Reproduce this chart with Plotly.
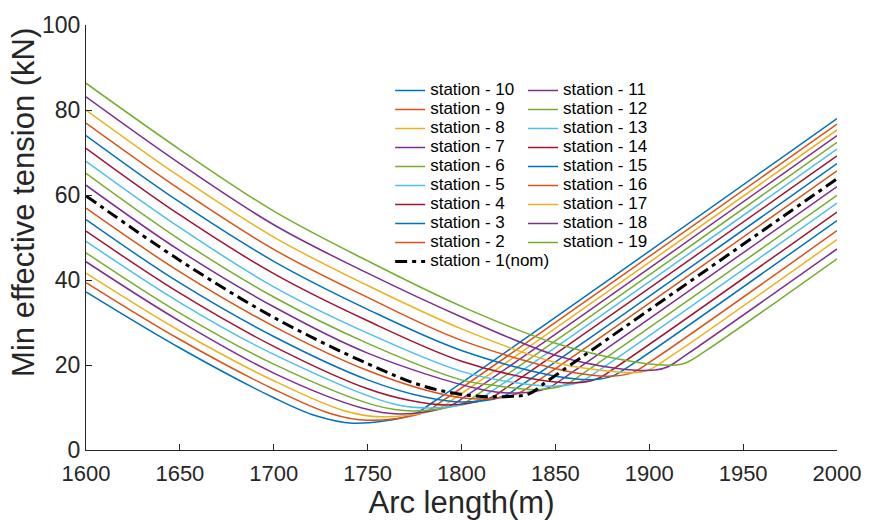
import plotly.graph_objects as go

# ---- data (arc length in m, min effective tension in kN) ----
st10_x = [1600, 1650, 1700, 1722, 1742, 1774, 1784, 2000]
st10_y = [37.2, 24.0, 12.3, 8.1, 6.3, 8.3, 11.0, 78.0]
st9_x = [1600, 1650, 1700, 1730, 1750, 1780, 1790, 2000]
st9_y = [39.4, 26.0, 14.3, 8.6, 7.0, 8.8, 11.6, 76.7]
st8_x = [1600, 1650, 1700, 1737, 1757, 1787, 1797, 2000]
st8_y = [41.6, 28.0, 16.3, 9.3, 7.8, 9.6, 12.4, 75.3]
st7_x = [1600, 1650, 1700, 1747, 1767, 1793, 1803, 2000]
st7_y = [44.3, 30.3, 18.1, 9.9, 8.5, 10.2, 12.9, 74.0]
st6_x = [1600, 1650, 1700, 1754, 1774, 1800, 1810, 2000]
st6_y = [46.4, 32.2, 20.2, 10.5, 9.2, 10.8, 13.5, 72.4]
st5_x = [1600, 1650, 1700, 1764, 1784, 1807, 1817, 2000]
st5_y = [49.1, 34.7, 22.5, 10.8, 9.9, 11.4, 14.1, 70.8]
st4_x = [1600, 1650, 1700, 1750, 1772, 1792, 1815, 1825, 2000]
st4_y = [51.5, 36.9, 24.4, 14.4, 11.7, 10.6, 12.2, 15.0, 69.2]
st3_x = [1600, 1650, 1700, 1750, 1781, 1801, 1822, 1832, 2000]
st3_y = [54.2, 39.3, 26.7, 16.5, 12.4, 11.3, 12.6, 15.3, 67.4]
st2_x = [1600, 1650, 1700, 1750, 1791, 1811, 1830, 1840, 2000]
st2_y = [56.9, 41.9, 29.1, 18.7, 13.0, 12.0, 13.3, 16.1, 65.7]
nom_x = [1600, 1650, 1700, 1750, 1780, 1805, 1825, 1836, 1846, 2000]
nom_y = [59.8, 44.6, 31.2, 20.3, 15.0, 12.8, 12.6, 13.2, 16.3, 63.8]
st11_x = [1600, 1650, 1700, 1750, 1810, 1830, 1846, 1856, 2000]
st11_y = [62.3, 46.9, 33.7, 22.8, 14.3, 13.4, 14.6, 17.4, 62.0]
st12_x = [1600, 1650, 1700, 1750, 1800, 1819, 1839, 1855, 1865, 2000]
st12_y = [65.1, 49.5, 36.0, 25.1, 16.5, 15.1, 14.2, 15.3, 18.1, 59.9]
st13_x = [1600, 1650, 1700, 1750, 1800, 1829, 1849, 1863, 1873, 2000]
st13_y = [67.9, 52.3, 38.4, 27.5, 18.5, 15.8, 15.0, 16.0, 18.7, 58.1]
st14_x = [1600, 1650, 1700, 1750, 1800, 1840, 1860, 1872, 1882, 2000]
st14_y = [71.0, 55.3, 41.5, 30.4, 20.9, 16.6, 15.8, 16.7, 19.4, 56.0]
st15_x = [1600, 1650, 1700, 1750, 1800, 1851, 1871, 1881, 1891, 2000]
st15_y = [74.0, 58.3, 44.4, 33.1, 23.4, 17.3, 16.6, 17.5, 20.2, 54.0]
st16_x = [1600, 1650, 1700, 1750, 1800, 1861, 1881, 1891, 1901, 2000]
st16_y = [76.9, 61.3, 47.2, 35.9, 25.8, 18.1, 17.4, 18.2, 20.9, 51.6]
st17_x = [1600, 1650, 1700, 1750, 1800, 1850, 1872, 1892, 1900, 1910, 2000]
st17_y = [80.0, 64.3, 50.1, 38.7, 28.5, 20.6, 18.9, 18.2, 18.9, 21.6, 49.5]
st18_x = [1600, 1650, 1700, 1750, 1800, 1850, 1883, 1903, 1910, 1920, 2000]
st18_y = [83.1, 67.4, 53.0, 41.6, 31.3, 22.3, 19.2, 18.8, 19.6, 22.5, 47.3]
st19_x = [1600, 1650, 1700, 1750, 1800, 1850, 1894, 1914, 1920, 1930, 2000]
st19_y = [86.3, 70.7, 56.2, 44.5, 33.8, 25.1, 20.6, 20.0, 20.6, 23.3, 45.0]

x_ticks = [1600, 1650, 1700, 1750, 1800, 1850, 1900, 1950, 2000]
y_ticks = [0, 20, 40, 60, 80, 100]

BLUE, ORANGE, YELLOW, PURPLE = '#0072BD', '#D95319', '#EDB120', '#7E2F8E'
GREEN, LBLUE, DRED = '#77AC30', '#4DBEEE', '#A2142F'

col1 = [('station - 10', st10_x, st10_y, BLUE), ('station - 9', st9_x, st9_y, ORANGE),
        ('station - 8', st8_x, st8_y, YELLOW), ('station - 7', st7_x, st7_y, PURPLE),
        ('station - 6', st6_x, st6_y, GREEN), ('station - 5', st5_x, st5_y, LBLUE),
        ('station - 4', st4_x, st4_y, DRED), ('station - 3', st3_x, st3_y, BLUE),
        ('station - 2', st2_x, st2_y, ORANGE)]
col2 = [('station - 11', st11_x, st11_y, PURPLE), ('station - 12', st12_x, st12_y, GREEN),
        ('station - 13', st13_x, st13_y, LBLUE), ('station - 14', st14_x, st14_y, DRED),
        ('station - 15', st15_x, st15_y, BLUE), ('station - 16', st16_x, st16_y, ORANGE),
        ('station - 17', st17_x, st17_y, YELLOW), ('station - 18', st18_x, st18_y, PURPLE),
        ('station - 19', st19_x, st19_y, GREEN)]

def lbl(t):
    return "<span style='font-size:17px'>" + t + "</span>"

fig = go.Figure()
for name, xs, ys, c in col1:
    fig.add_trace(go.Scatter(x=xs, y=ys, mode='lines', line_shape='spline', name=lbl(name),
                             line=dict(color=c, width=1.5), legend='legend'))
for name, xs, ys, c in col2:
    fig.add_trace(go.Scatter(x=xs, y=ys, mode='lines', line_shape='spline', name=lbl(name),
                             line=dict(color=c, width=1.5), legend='legend2'))
fig.add_trace(go.Scatter(x=nom_x, y=nom_y, mode='lines', line_shape='spline', name=lbl('station - 1(nom)'),
                         line=dict(color='black', width=3, dash='12px,5px,4px,5px'), legend='legend'))

fnt = 'Liberation Sans, Arial, sans-serif'
axc = '#262626'
axis_common = dict(ticks='inside', ticklen=6, tickcolor=axc, showline=True, linecolor=axc,
                   linewidth=1, showgrid=False, zeroline=False, mirror=False)
leg = dict(xanchor='left', yanchor='top', bgcolor='rgba(0,0,0,0)', y=0.880,
           font=dict(size=10.9, color='black', family=fnt), tracegroupgap=0, borderwidth=0)
fig.update_layout(
    width=878, height=520, margin=dict(l=86, r=41, t=22, b=68),
    paper_bgcolor='white', plot_bgcolor='white', font=dict(family=fnt, color=axc),
    xaxis=dict(range=[1600, 2000], tickvals=x_ticks, ticklabelstandoff=4,
               tickfont=dict(size=22, color=axc, family=fnt),
               title=dict(text='Arc length(m)', font=dict(size=31, color=axc), standoff=0), **axis_common),
    yaxis=dict(range=[0, 100], tickvals=y_ticks, tickfont=dict(size=23, color=axc, family=fnt),
               **axis_common),
    legend=dict(x=0.405, **leg),
    legend2=dict(x=0.5819, **leg),
    showlegend=True,
    annotations=[dict(text='Min effective tension (kN)', textangle=-90, showarrow=False,
                      xref='paper', yref='paper', x=-0.0826, y=0.5837, xanchor='center', yanchor='middle',
                      font=dict(size=31, color=axc, family=fnt))],
)
fig.write_html('out.html')
